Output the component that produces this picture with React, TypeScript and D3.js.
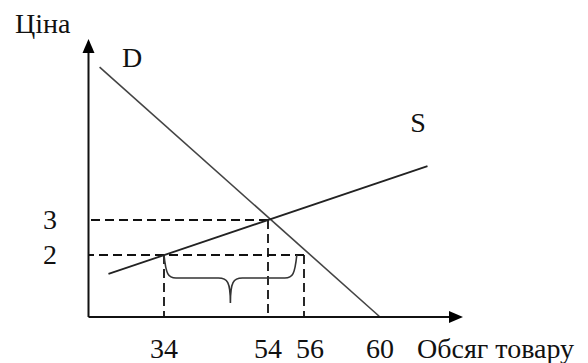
import React from "react";
import * as d3 from "d3";

// ---- data ----
const qBreaks = [0, 34, 54, 56, 60];          // quantities with marked positions (schematic axis)
const pBreaks = [0, 2, 3];                    // prices with marked positions
const xTickLabels = ["34", "54", "56", "60"];
const xTickValues = [34, 54, 56, 60];
const yTickLabels = ["3", "2"];
const yTickValues = [3, 2];
const demandPts = [ { q: 5, p: 7.37 }, { q: 60, p: 0 } ];
const supplyPts = [ { q: 9, p: 1.39 }, { q: 62.5, p: 4.54 } ];
const equilibrium = { q: 54, p: 3 };
const floorPrice = 2;
const supplyAtFloor = 34;
const demandAtFloor = 56;
const braceSpan = [34, 55.6];
const xTitle = "Обсяг товару";
const yTitle = "Ціна";

const W = 588, H = 363;

export default function App() {
  const ox = 88.5, oy = 317;
  const x = d3.scaleLinear().domain(qBreaks).range([ox, 164, 268, 304, 380]);
  const y = d3.scaleLinear().domain(pBreaks).range([oy, 255, 220]);

  const line = d3.line<{ q: number; p: number }>().x(d => x(d.q)).y(d => y(d.p));

  const dashed: { q: number; p: number }[][] = [
    [ { q: equilibrium.q, p: equilibrium.p }, { q: 0, p: equilibrium.p } ],
    [ { q: demandAtFloor, p: floorPrice }, { q: 0, p: floorPrice } ],
    [ { q: supplyAtFloor, p: floorPrice }, { q: supplyAtFloor, p: 0 } ],
    [ { q: equilibrium.q, p: equilibrium.p }, { q: equilibrium.q, p: 0 } ],
    [ { q: demandAtFloor, p: floorPrice }, { q: demandAtFloor, p: 0 } ],
  ];

  // brace
  const bx0 = x(braceSpan[0]), bx1 = x(braceSpan[1]);
  const by = y(floorPrice);
  const mid = (bx0 + bx1) / 2;
  const bh = 278, tip = 303;
  const brace = d3.path();
  brace.moveTo(bx0, by);
  brace.bezierCurveTo(bx0 + 2, bh - 4, bx0 + 4, bh, bx0 + 12, bh);
  brace.lineTo(mid - 12, bh);
  brace.bezierCurveTo(mid - 3, bh, mid, bh + 4, mid, tip);
  brace.bezierCurveTo(mid, bh + 4, mid + 3, bh, mid + 12, bh);
  brace.lineTo(bx1 - 12, bh);
  brace.bezierCurveTo(bx1 - 4, bh, bx1 - 2, bh - 4, bx1, by);

  const yTip = 39, xTip = 463;

  const labels: { t: string; x: number; y: number; a: "start" | "middle" }[] = [
    ...xTickValues.map((v, i) => ({ t: xTickLabels[i], x: x(v) + (v === 56 ? 6 : 0), y: 358, a: "middle" as const })),
    ...yTickValues.map((v, i) => ({ t: yTickLabels[i], x: 50, y: y(v) + 9, a: "middle" as const })),
    { t: yTitle, x: 15, y: 33, a: "start" },
    { t: xTitle, x: 417, y: 358, a: "start" },
    { t: "D", x: 122, y: 67, a: "start" },
    { t: "S", x: 418, y: 132, a: "middle" },
  ];

  return (
    <svg width={W} height={H} style={{ position: "absolute", left: 0, top: 0, background: "#fff" }}>
      {/* guides */}
      {dashed.map((seg, i) => (
        <path key={i} d={line(seg) || ""} fill="none" stroke="#111" strokeWidth={1.8} strokeDasharray="9,5" />
      ))}
      {/* brace */}
      <path d={brace.toString()} fill="none" stroke="#333" strokeWidth={1.6} />
      {/* curves */}
      <path d={line(demandPts) || ""} fill="none" stroke="#444" strokeWidth={1.6} />
      <path d={line(supplyPts) || ""} fill="none" stroke="#222" strokeWidth={1.8} />
      {/* axes */}
      <line x1={ox} y1={oy} x2={ox} y2={yTip + 10} stroke="#111" strokeWidth={2} />
      <line x1={ox} y1={oy} x2={xTip - 10} y2={oy} stroke="#111" strokeWidth={2} />
      <path d={`M${ox},${yTip} L${ox - 6},${yTip + 14} L${ox + 6},${yTip + 14} Z`} fill="#000" />
      <path d={`M${xTip},${oy} L${xTip - 14},${oy - 6} L${xTip - 14},${oy + 6} Z`} fill="#000" />
      {/* labels */}
      {labels.map((l, i) => (
        <text key={i} x={l.x} y={l.y} textAnchor={l.a} style={{ fontFamily: "Liberation Serif", fontSize: 28 }} fill="#111">
          {l.t}
        </text>
      ))}
    </svg>
  );
}
